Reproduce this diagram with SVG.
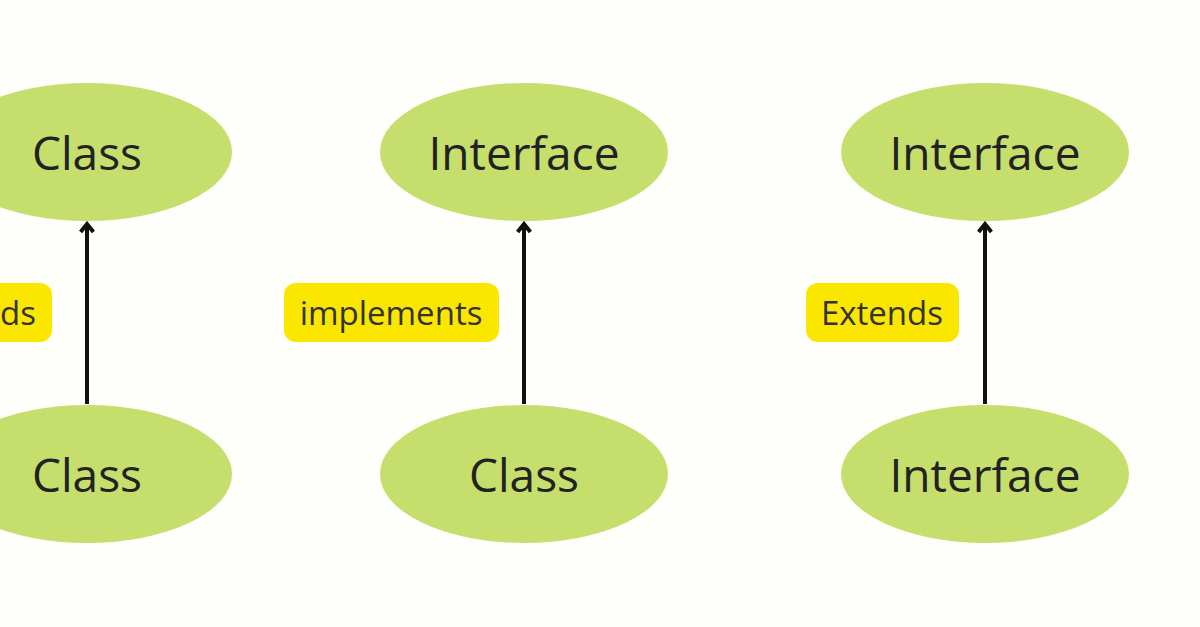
<svg xmlns="http://www.w3.org/2000/svg" width="1200" height="627" viewBox="0 0 1200 627">
<defs>
<style>
.n{fill:#c6de6c}
.t{font-family:"Open Sans","Noto Sans",sans-serif;font-size:46px;fill:#222;text-anchor:middle;dominant-baseline:central}
.lb{fill:#fbe600}
.lt{font-family:"Open Sans","Noto Sans",sans-serif;font-size:33px;fill:#333;text-anchor:middle;dominant-baseline:central}
.c{stroke:#111;stroke-width:4;fill:none;marker-end:url(#a)}
</style>
<marker id="a" viewBox="0 0 10 10" refX="8" refY="5" markerWidth="4" markerHeight="4" orient="auto" markerUnits="strokeWidth">
<path d="M3,1 L8,5 L3,9" fill="none" stroke="#111" stroke-width="2.5"/>
</marker>
</defs>
<rect width="1200" height="627" fill="#fefefb"/>
<g id="connectors">
<line class="c" x1="87" y1="404" x2="87" y2="224"/>
<line class="c" x1="524" y1="404" x2="524" y2="224"/>
<line class="c" x1="985" y1="404" x2="985" y2="224"/>
</g>
<g id="label-left"><rect class="lb" x="-101" y="283" width="153" height="59" rx="12"/><text class="lt" x="-25" y="312">Extends</text></g>
<g id="label-mid"><rect class="lb" x="284" y="283" width="215" height="59" rx="12"/><text class="lt" x="391" y="312">implements</text></g>
<g id="label-right"><rect class="lb" x="806" y="283" width="153" height="59" rx="12"/><text class="lt" x="882" y="312">Extends</text></g>
<g id="n1"><ellipse class="n" cx="87" cy="152" rx="145" ry="69"/><text class="t" x="87" y="152">Class</text></g>
<g id="n2"><ellipse class="n" cx="87" cy="474" rx="145" ry="69"/><text class="t" x="87" y="474">Class</text></g>
<g id="n3"><ellipse class="n" cx="524" cy="152" rx="144" ry="69"/><text class="t" x="524" y="152">Interface</text></g>
<g id="n4"><ellipse class="n" cx="524" cy="474" rx="144" ry="69"/><text class="t" x="524" y="474">Class</text></g>
<g id="n5"><ellipse class="n" cx="985" cy="152" rx="144" ry="69"/><text class="t" x="985" y="152">Interface</text></g>
<g id="n6"><ellipse class="n" cx="985" cy="474" rx="144" ry="69"/><text class="t" x="985" y="474">Interface</text></g>
</svg>
